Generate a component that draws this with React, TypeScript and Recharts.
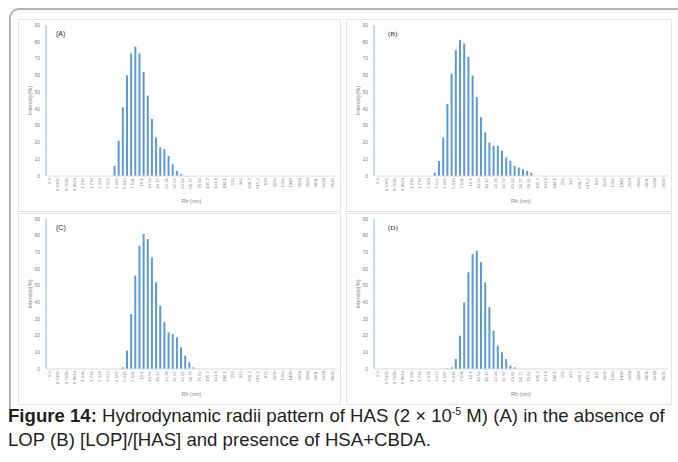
import React from "react";
import { BarChart, Bar, XAxis, YAxis, Label } from "recharts";

// Rh size classes (nm)
const sizes = [
  "0.4", "0.4632", "0.5365", "0.6213", "0.7195", "0.8332", "0.9649", "1.117", "1.294", "1.499",
  "1.736", "2.01", "2.328", "2.696", "3.122", "3.615", "4.187", "4.849", "5.615", "6.503",
  "7.531", "8.721", "10.1", "11.7", "13.54", "15.69", "18.17", "21.04", "24.36", "28.21",
  "32.67", "37.84", "43.82", "50.75", "58.77", "68.06", "78.82", "91.28", "105.7", "122.4",
  "141.8", "164.2", "190.1", "220.2", "255", "295.3", "342", "396.1", "458.7", "531.2",
  "615.2", "712.4", "825", "955.4", "1106", "1281", "1484", "1718", "1990", "2305",
  "2669", "3091", "3580", "4145", "4801", "5560", "6439", "7456", "8635", "10000",
];

const intensityA = [
  0, 0, 0, 0, 0, 0, 0, 0, 0, 0,
  0, 0, 0, 0, 0, 0, 6, 21, 41, 60,
  73, 77, 73, 62, 48, 34, 23, 17, 16, 12,
  7, 3, 1, 0, 0, 0, 0, 0, 0, 0,
  0, 0, 0, 0, 0, 0, 0, 0, 0, 0,
  0, 0, 0, 0, 0, 0, 0, 0, 0, 0,
  0, 0, 0, 0, 0, 0, 0, 0, 0, 0,
];

const intensityB = [
  0, 0, 0, 0, 0, 0, 0, 0, 0, 0,
  0, 0, 0, 0, 2, 9, 23, 43, 61, 75,
  81, 79, 71, 60, 47, 35, 26, 20, 18, 18,
  15, 11, 9, 6, 5, 4, 3, 2, 0, 0,
  0, 0, 0, 0, 0, 0, 0, 0, 0, 0,
  0, 0, 0, 0, 0, 0, 0, 0, 0, 0,
  0, 0, 0, 0, 0, 0, 0, 0, 0, 0,
];

const intensityC = [
  0, 0, 0, 0, 0, 0, 0, 0, 0, 0,
  0, 0, 0, 0, 0, 0, 0, 0, 1, 11,
  33, 56, 74, 81, 78, 67, 52, 38, 28, 22,
  21, 19, 13, 8, 4, 1, 0, 0, 0, 0,
  0, 0, 0, 0, 0, 0, 0, 0, 0, 0,
  0, 0, 0, 0, 0, 0, 0, 0, 0, 0,
  0, 0, 0, 0, 0, 0, 0, 0, 0, 0,
];

const intensityD = [
  0, 0, 0, 0, 0, 0, 0, 0, 0, 0,
  0, 0, 0, 0, 0, 0, 0, 0.5, 1, 6,
  20, 40, 58, 69, 71, 64, 52, 37, 23, 14,
  10, 6, 2, 1, 0, 0, 0, 0, 0, 0,
  0, 0, 0, 0, 0, 0, 0, 0, 0, 0,
  0, 0, 0, 0, 0, 0, 0, 0, 0, 0,
  0, 0, 0, 0, 0, 0, 0, 0, 0, 0,
];

const yTicks = [0, 10, 20, 30, 40, 50, 60, 70, 80, 90];

const font = "'Liberation Sans', Arial, sans-serif";
const grey = "#7f7f7f";

const yTitle = (props: any) => {
  const { x, y, height } = props.viewBox;
  const cx = x + 6;
  const cy = y + height / 2;
  return (
    <text x={cx} y={cy} transform={`rotate(-90 ${cx} ${cy})`} textAnchor="middle" fontSize={5.5} fill={grey} fontFamily={font}>
      Intensity(%)
    </text>
  );
};

const xTitle = (props: any) => {
  const { x, y, width } = props.viewBox;
  return (
    <text x={x + width / 2} y={y + 27} textAnchor="middle" fontSize={5.5} fill={grey} fontFamily={font}>
      Rh (nm)
    </text>
  );
};

interface PanelProps {
  left: number;
  top: number;
  width: number;
  height: number;
  values: number[];
  tag: string;
  serif?: boolean;
}

function Panel({ left, top, width, height, values, tag, serif }: PanelProps) {
  const rows = sizes.map((s, i) => ({ size: s, value: values[i] }));
  return (
    <div
      style={{
        position: "absolute",
        left,
        top,
        width,
        height,
        boxSizing: "border-box",
        border: "1px solid #e6e6e6",
      }}
    >
      <div style={{ position: "absolute", left: -1, top: -1 }}>
        <BarChart width={width} height={height} data={rows} margin={{ top: 6, right: 4, left: 8, bottom: 16 }}>
          <XAxis
            dataKey="size"
            interval={1}
            tickLine={false}
            tickSize={1}
            tickMargin={1}
            axisLine={{ stroke: "#d9d9d9" }}
            height={20}
            angle={-90}
            textAnchor="end"
            tick={{ fontSize: 4.3, fill: grey, fontFamily: font }}
          >
            <Label content={xTitle} />
          </XAxis>
          <YAxis
            domain={[0, 90]}
            ticks={yTicks}
            width={20}
            tickLine={false}
            tickSize={4}
            tickMargin={2}
            axisLine={{ stroke: "#8fb8e0" }}
            tick={{ fontSize: 5, fill: grey, fontFamily: font }}
          >
            <Label content={yTitle} />
          </YAxis>
          <Bar dataKey="value" fill="#5B9BD5" barSize={2} isAnimationActive={false} />
        </BarChart>
      </div>
      <div
        style={{
          position: "absolute",
          left: serif ? 41 : 37,
          top: 10,
          fontSize: 7,
          fontFamily: serif ? "'Liberation Serif', 'Times New Roman', serif" : font,
          color: "#222",
        }}
      >
        {tag}
      </div>
    </div>
  );
}

export default function App() {
  return (
    <div
      style={{
        position: "absolute",
        left: 0,
        top: 0,
        width: 678,
        height: 462,
        background: "#fff",
        overflow: "hidden",
      }}
    >
      <div
        style={{
          position: "absolute",
          left: 9,
          top: 8,
          width: 740,
          height: 400,
          borderTop: "2px solid #b3b3b3",
          borderLeft: "2px solid #b3b3b3",
          borderTopLeftRadius: 10,
        }}
      />
      <Panel left={18} top={19} width={323} height={193} values={intensityA} tag="(A)" />
      <Panel left={346} top={19} width={326} height={193} values={intensityB} tag="(B)" serif />
      <Panel left={18} top={213} width={323} height={192} values={intensityC} tag="(C)" />
      <Panel left={346} top={213} width={326} height={192} values={intensityD} tag="(D)" serif />
      <div
        style={{
          position: "absolute",
          left: 8,
          top: 404,
          width: 670,
          fontFamily: font,
          fontSize: 18.6,
          lineHeight: "24px",
          color: "#231f20",
          whiteSpace: "nowrap",
        }}
      >
        <b>Figure 14:</b> Hydrodynamic radii pattern of HAS (2 × 10
        <sup style={{ fontSize: 10.5, lineHeight: 0 }}>-5</sup> M) (A) in the absence of
        <br />
        LOP (B) [LOP]/[HAS] and presence of HSA+CBDA.
      </div>
    </div>
  );
}
